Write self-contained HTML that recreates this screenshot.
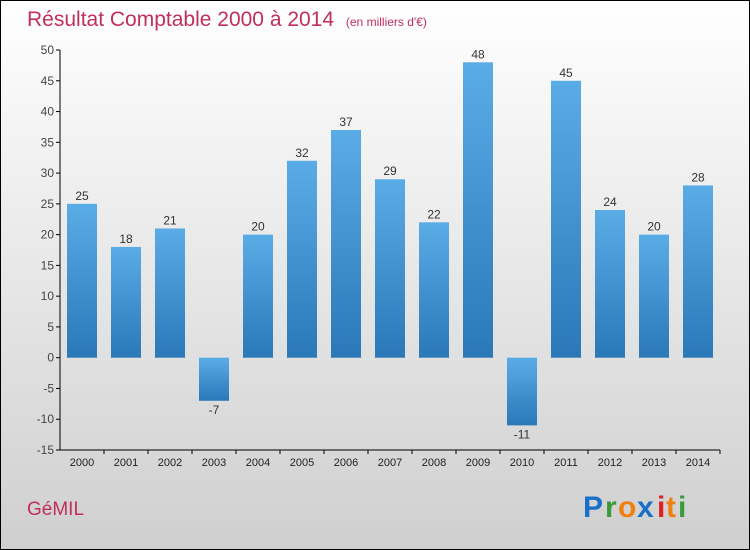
<!DOCTYPE html>
<html><head><meta charset="utf-8"><style>
body{margin:0;width:750px;height:550px;overflow:hidden}
svg{display:block;font-family:"Liberation Sans",sans-serif}
</style></head><body>
<svg width="750" height="550">
<defs>
<linearGradient id="bg" x1="0" y1="0" x2="0" y2="1"><stop offset="0" stop-color="#ffffff"/><stop offset="1" stop-color="#cfcfcf"/></linearGradient>
<linearGradient id="bar" x1="0" y1="0" x2="0" y2="1"><stop offset="0" stop-color="#5aace6"/><stop offset="1" stop-color="#2a78b8"/></linearGradient>
</defs>
<rect x="0.5" y="0.5" width="749" height="549" fill="url(#bg)" stroke="#000"/>
<text x="27" y="26" font-size="21" fill="#c0305a">Résultat Comptable 2000 à 2014 <tspan font-size="12" dx="6">(en milliers d'€)</tspan></text>
<g id="axes"></g>
<g id="bars"></g>
<text x="27" y="515" font-size="19" fill="#c0305a">GéMIL</text>
<g font-size="30" font-weight="bold">
<text x="583" y="517" fill="#1a6fc8">P</text><text x="605" y="517" fill="#3a9a3a">r</text><text x="618" y="517" fill="#f08010">o</text><text x="637" y="517" fill="#1a6fc8">x</text><text x="657" y="517" fill="#e02020">i</text><text x="666" y="517" fill="#f08010">t</text><text x="678" y="517" fill="#3a9a3a">i</text>
</g>
</svg>
<script>
const categories=["2000","2001","2002","2003","2004","2005","2006","2007","2008","2009","2010","2011","2012","2013","2014"];
const values=[25,18,21,-7,20,32,37,29,22,48,-11,45,24,20,28];
const ticks=[50,45,40,35,30,25,20,15,10,5,0,-5,-10,-15];
const NS="http://www.w3.org/2000/svg";
const y=v=>357.7-(v)*400/65;
const x=i=>82+i*44;
function mk(t,a,p){const e=document.createElementNS(NS,t);for(const k in a)e.setAttribute(k,a[k]);p.appendChild(e);return e;}
const ax=document.getElementById('axes'),bg=document.getElementById('bars');
const yl=mk('line',{x1:60,x2:60,y1:y(50),y2:y(-15),stroke:'#000'},ax);


const xl=mk('line',{x1:60,x2:720,y1:y(-15),y2:y(-15),stroke:'#000'},ax);


ticks.forEach(t=>{
 mk('line',{x1:56,x2:60,y1:y(t),y2:y(t),stroke:'#000'},ax);
 const l=mk('text',{x:54,y:y(t)+4,'font-size':12,fill:'#444','text-anchor':'end'},ax);l.textContent=t;
 
 
});
categories.forEach((c,i)=>{
 mk('line',{x1:x(i)+22,x2:x(i)+22,y1:y(-15),y2:y(-15)+4,stroke:'#000'},ax);
 const l=mk('text',{x:x(i),y:y(-15)+16,'font-size':11,fill:'#222','text-anchor':'middle'},ax);l.textContent=c;
 
 
 const v=values[i];
 const r=mk('rect',{x:x(i)-15,width:30,y:Math.min(y(v),y(0)),height:Math.abs(y(v)-y(0)),fill:'url(#bar)'},bg);
 
 
 const vl=mk('text',{x:x(i),y:v>=0?y(v)-4:y(v)+13,'font-size':12,fill:'#333','text-anchor':'middle'},bg);vl.textContent=v;
 
 
});
</script>
</body></html>
